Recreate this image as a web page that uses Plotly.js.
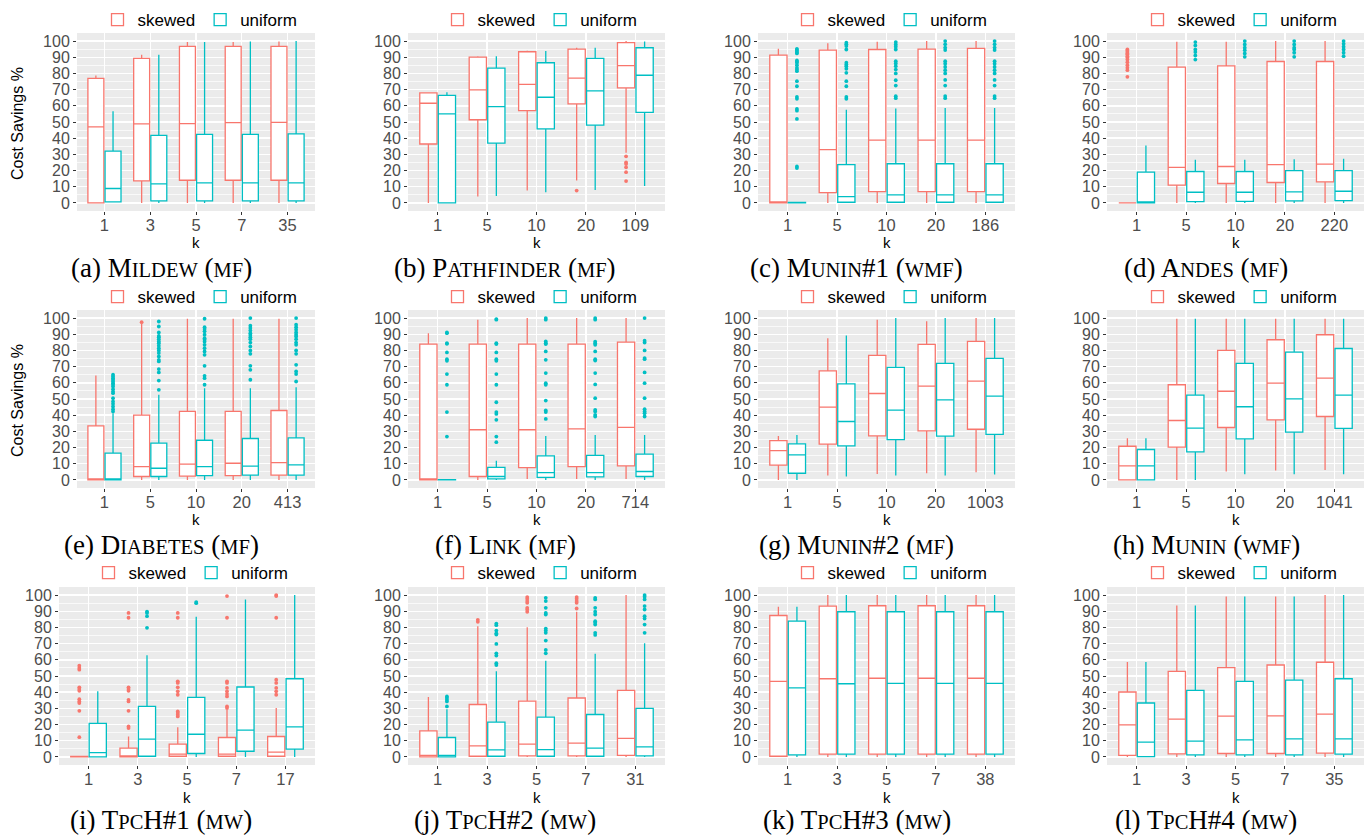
<!DOCTYPE html>
<html><head><meta charset="utf-8">
<script src="https://cdn.plot.ly/plotly-3.0.1.min.js"></script>
<style>html,body{margin:0;padding:0;background:#fff}</style>
</head><body><div id="chart" style="width:1367px;height:835px"></div>
<script>
// ---------------- DATA ----------------
// each box row: [lower whisker, q1, median, q3, upper whisker]
const seriesNames = ['skewed', 'uniform'];

const mildewK = ['1','3','5','7','35'];
const mildewSkewed = [[0,0,47,77,78.7],[0,13.6,48.8,89.3,91.5],[0,14,49,96.7,99.4],[0,14,49.6,96.7,99.4],[0,14,49.8,96.7,99.8]];
const mildewUniform = [[0.5,0.6,8.9,32,56.6],[0,1.2,11.8,41.7,91.5],[0,1.2,12.4,42.4,99.4],[0,1.2,12.4,42.4,99.8],[0,1.2,12.4,42.6,100]];
const mildewSkewedOut = [[],[],[],[],[]];
const mildewUniformOut = [[],[],[],[],[]];

const pathfinderK = ['1','5','10','20','109'];
const pathfinderSkewed = [[0,36.4,61.6,68,68.4],[3.9,51.4,69.8,90.1,90.7],[7.6,57,73.3,93.4,94],[13.8,61.2,77.1,95,95.9],[31,71.1,84.9,99,100]];
const pathfinderUniform = [[0,0,55,66.5,68.4],[4.3,37,59.5,83.3,90.7],[6.6,45.7,65.3,86.6,93.8],[8,48.1,69.2,89.3,95.9],[10.5,56,78.9,95.9,99.8]];
const pathfinderSkewedOut = [[],[],[],[7.6],[28.8,25,24,22,19,13.5]];
const pathfinderUniformOut = [[],[],[],[],[]];

const munin1K = ['1','5','10','20','186'];
const munin1Skewed = [[0,0,0,91.3,95.2],[0,6.4,32.9,94.4,98.6],[0,7,38.8,94.8,99.6],[0,7,38.8,95,100],[0,7,38.8,95.5,100]];
const munin1Uniform = [[0,0,0,0.3,0.3],[0,0.4,3.9,23.6,57.6],[0,0.4,5,24.2,58.3],[0,0.4,5,24.2,58.7],[0,0.4,5,24.2,58.7]];
const munin1SkewedOut = [[],[],[],[],[]];
const munin1UniformOut = [
  [95.2,94.5,93.8,93,92.4,88,87.3,86.6,85.1,83.5,82.5,81.4,75.2,72.1,65.5,64.3,58.1,57,51.9,22.5,21.5],
  [99,98,96.9,94.8,86.6,85.5,84.5,82.9,80.4,75.2,72.1,65.5,64.3],
  [99.4,97.9,96.5,94.8,87.6,86.2,84.5,82.4,80,75.8,72.5,65.9,64.7],
  [100,98,96,94.5,87.6,86,84,82,80,76,72.5,66,64.7],
  [100,98,96,94.5,87.6,86,84,82,80,76,72.5,66,64.7]];

const andesK = ['1','5','10','20','220'];
const andesSkewed = [[0,0,0,0,0],[0,11,21.9,83.9,99.6],[0,12,22.5,84.7,99.6],[0,12.6,23.6,87.4,100],[0,13,24,87.4,100]];
const andesUniform = [[0,0,0,19,35.5],[0,0.8,6.6,19.4,26.7],[0,1,6.6,19.4,26.7],[0,1.2,6.8,20,27],[0,1.4,7.2,20,27.3]];
const andesSkewedOut = [[94.8,94,93.2,92.4,91.7,90.7,89.8,88.6,87,85.1,83.5,82,77.9],[],[],[],[]];
const andesUniformOut = [[],[99.4,97.3,94.8,93.2,91.1,88.6],[100,97.9,95.9,94.4,92.4,90.3],[100,97.9,95.9,94.8,92.8,90.3],[100,98.3,96.5,94.8,92.8,90.7]];

const diabetesK = ['1','5','10','20','413'];
const diabetesSkewed = [[0,0,0,33.4,64.5],[0,2.1,8.2,40,96.5],[0,2.3,9.7,42.3,99.6],[0,2.7,10.3,42.3,99.6],[0,2.9,10.7,42.9,99.6]];
const diabetesUniform = [[0,0,0,16.5,41.2],[0,2.1,7.2,22.7,52.6],[0,2.7,8.2,24.5,56.7],[0,2.9,8.5,25.6,56.7],[0,2.9,9.3,26,57.3]];
const diabetesSkewedOut = [[],[97.5],[],[],[]];
const diabetesUniformOut = [
  [65,63.9,62.9,61.9,60.8,59.8,58.8,57.7,56.1,54.6,53.6,50.5,48.5,47,45.4,43.7,42.3],
  [97.9,94.8,91.1,89,88.2,87,85.6,84.5,82.9,81.4,80,78.4,76.3,74.2,73.2,68.5,66.4,61.4,55.7],
  [99.6,94.4,93.2,91.8,89.7,87.6,86.6,85.4,83.5,81.4,79.4,77.3,70.5,64.3,62.9,58.8],
  [100,95.3,93.8,92.4,90.7,89.5,88.2,87,84.9,82.5,80,77.9,70.5,68,61.9],
  [100,95.9,94.4,92.8,91.1,89.7,88.7,87,84.9,83.5,80,77.9,71.1,67,65.4,60.8]];

const linkK = ['1','5','10','20','714'];
const linkSkewed = [[0,0,0,83.9,90.7],[0,2.1,31,83.9,99],[0.6,7.6,31,83.9,100],[0.6,8.2,31.5,83.9,100],[0.6,8.7,32.5,85.2,100]];
const linkUniform = [[0,0,0,0.2,0.2],[0,0.6,2.1,7.8,11.8],[0,1.6,4.5,14.8,27.2],[0,1.9,4.5,15.1,27.8],[0,2.1,5.2,15.9,27.8]];
const linkSkewedOut = [[],[],[],[],[]];
const linkUniformOut = [
  [91.1,90.7,84.5,84.1,78.8,74.6,73.6,65.4,58.8,41.9,26.8],
  [99.4,99,84.5,84,78.8,74.6,73.6,65.4,58.8,48,41.9,40.8,37.1,26.8,23.3],
  [100,99,85.6,84.5,84,79.4,74.2,66,59.8,58.8,49,42.9,41.9,37.7],
  [100,99,85.4,84.5,83.5,79.4,74.6,73.8,66,59,50.5,43.3,42.3,40.2,39.2],
  [100,86,84.9,80,75.3,74.6,66.4,59.8,50.5,43.7,42.3,41.2,39.2]];

const munin2K = ['1','5','10','20','1003'];
const munin2Skewed = [[0,9.1,18.1,24.3,27.2],[2.7,22.1,45,67.4,87.6],[3.7,27.2,53.4,76.9,99],[4.1,30.3,57.9,83.7,98.1],[4.7,31.3,61,85.6,100]];
const munin2Uniform = [[0,4.1,15.5,22.3,27.8],[2.1,21,36.1,59.4,89.3],[2.7,24.9,43.1,69.5,100],[2.7,27,49.5,72,100],[3.3,28.2,51.8,75.1,100]];
const munin2SkewedOut = [[],[],[],[],[]];
const munin2UniformOut = [[],[],[],[],[]];

const muninK = ['1','5','10','20','1041'];
const muninSkewed = [[0,0,8.7,20.8,25.8],[0,20.2,36.7,58.8,99.6],[5.2,32.4,54.8,80,99.6],[5.8,37.1,59.8,86.6,99.6],[6.2,39.2,62.9,89.7,99.6]];
const muninUniform = [[0,0,8.7,18.8,25.8],[0,17.3,32,52.4,99.6],[3.5,25.4,45.2,72,99.6],[3.5,29.5,50.1,79,99.6],[3.5,31.8,52.4,81.2,99.6]];
const muninSkewedOut = [[],[],[],[],[]];
const muninUniformOut = [[],[],[],[],[]];

const tpch1K = ['1','3','5','7','17'];
const tpch1Skewed = [[0,0,0,0.3,0.3],[0,0,0.4,5.4,12.6],[0,0.4,1.7,7.9,18.4],[0,0.4,1.7,12,29.1],[0,0.4,2.9,12.6,30.2]];
const tpch1Uniform = [[0,0,2.7,20.7,40.5],[0,0.4,11,31.2,62.8],[0,2.1,14,36.8,86.6],[0,3.5,16.5,43.2,97.3],[0,4.8,18.6,48.3,100]];
const tpch1SkewedOut = [
  [56.4,55,53.9,43,41.9,40.9,35.7,34.3,33.3,28.5,12.2],
  [89,86,43,41.9,40.9,35.3,34.3,28.5,18.8,17.8],
  [89,86,46.7,45.7,43,40.5,38.4,28.1,27.1,26,25],
  [99.4,86,46.7,45.7,42.6,40.5,38.8,37.4,31.2,30.2],
  [100,99.4,86,47.7,45.7,42.6,40.5,38.4]];
const tpch1UniformOut = [[],[89.7,89,87,79.8],[95.7,95],[],[]];

const tpch2K = ['1','3','5','7','31'];
const tpch2Skewed = [[0,0,1,16.1,37],[0,0.4,6.8,32.4,80.8],[0,0.6,7.9,34.5,80.2],[0,0.6,8.5,36.4,89.7],[0,1,11.4,41.1,100]];
const tpch2Uniform = [[0,0,1,12,29.5],[0,0.4,4.3,21.5,52.9],[0,0.4,4.5,24.6,59.5],[0,0.4,5.4,26.2,63.8],[0,0.6,6.2,30,70.2]];
const tpch2SkewedOut = [[],[84.7,83.5],[98.8,97.7,96.3,95.2,92.1,91.1,89.7],[98.8,97.7,96.3,95.2,91.7],[]];
const tpch2UniformOut = [
  [37.4,36.4,35.3,34.3,31.2],
  [82.4,81.4,78.1,76.4,75.6,69.8,64,62.6,57.9,56.8],
  [98.3,96.3,92.1,89,88,79.3,78.1,76.7,71.9,66.1,64],
  [98.3,97.3,92.1,89.7,88,83.9,82.9,81.8,76.7,75.4],
  [100,99,97.3,93.2,91.1,87,85.5,81.8,76.7]];

const tpch3K = ['1','3','5','7','38'];
const tpch3Skewed = [[0,0.4,46.7,87.4,92.8],[0,1.7,48.3,93.2,100],[0,1.7,48.6,93.4,100],[0,1.7,48.6,93.4,100],[0,1.7,48.6,93.4,100]];
const tpch3Uniform = [[0,1.2,42.6,83.9,92.8],[0,1.7,45.2,89.7,100],[0,1.7,45.5,89.7,100],[0,1.7,45.5,89.7,100],[0,1.7,45.5,89.7,100]];
const tpch3SkewedOut = [[],[],[],[],[]];
const tpch3UniformOut = [[],[],[],[],[]];

const tpch4K = ['1','3','5','7','35'];
const tpch4Skewed = [[0,1,19.8,40.1,58.7],[0,1.9,23.3,52.9,93.6],[0,2.1,25.2,55.2,99.2],[0,2.1,25.4,56.8,99.2],[0,2.3,26.4,58.5,100]];
const tpch4Uniform = [[0,0.2,9.1,33.3,58.7],[0,1.2,9.7,41.1,93.6],[0,1.2,10.5,46.7,99.2],[0,1.2,11.2,47.5,99.2],[0,1.7,11.2,48.3,100]];
const tpch4SkewedOut = [[],[],[],[],[]];
const tpch4UniformOut = [[],[],[],[],[]];

const captionLabels = ['(a)','(b)','(c)','(d)','(e)','(f)','(g)','(h)','(i)','(j)','(k)','(l)'];
// lowercase letters are set in small capitals
const captionNames = ['Mildew (mf)','Pathfinder (mf)','Munin#1 (wmf)','Andes (mf)',
  'Diabetes (mf)','Link (mf)','Munin#2 (mf)','Munin (wmf)',
  'TpcH#1 (mw)','TpcH#2 (mw)','TpcH#3 (mw)','TpcH#4 (mw)'];
const yTitle = 'Cost Savings %';
const xTitle = 'k';

// ---------------- BUILD ----------------
const panels = [
  [mildewK, mildewSkewed, mildewUniform, mildewSkewedOut, mildewUniformOut],
  [pathfinderK, pathfinderSkewed, pathfinderUniform, pathfinderSkewedOut, pathfinderUniformOut],
  [munin1K, munin1Skewed, munin1Uniform, munin1SkewedOut, munin1UniformOut],
  [andesK, andesSkewed, andesUniform, andesSkewedOut, andesUniformOut],
  [diabetesK, diabetesSkewed, diabetesUniform, diabetesSkewedOut, diabetesUniformOut],
  [linkK, linkSkewed, linkUniform, linkSkewedOut, linkUniformOut],
  [munin2K, munin2Skewed, munin2Uniform, munin2SkewedOut, munin2UniformOut],
  [muninK, muninSkewed, muninUniform, muninSkewedOut, muninUniformOut],
  [tpch1K, tpch1Skewed, tpch1Uniform, tpch1SkewedOut, tpch1UniformOut],
  [tpch2K, tpch2Skewed, tpch2Uniform, tpch2SkewedOut, tpch2UniformOut],
  [tpch3K, tpch3Skewed, tpch3Uniform, tpch3SkewedOut, tpch3UniformOut],
  [tpch4K, tpch4Skewed, tpch4Uniform, tpch4SkewedOut, tpch4UniformOut]
];

const W = 1367, H = 835;
const COLORS = ['#F8766D', '#00BFC4'];
const SANS = 'Liberation Sans, Arial, Helvetica, sans-serif';
const SERIF = 'Liberation Serif, Times New Roman, serif';
const GROUP_WIDTH = 0.75;             // dodge width per k
const DODGE = GROUP_WIDTH / 4;        // centre offset of each box
const BOX_W = GROUP_WIDTH / 2 * 0.93; // each box's width

const colX = [[77,315],[408,665],[758,1015],[1107,1364]];
const rowY = [[33,211],[310,488],[587,765]];
const legendX = [200,540,890,1240];
const legendY = [20,297,573];
const captionX = [161,505,857,1206];
const captionY = [268,545,820];
const kTitleY = [242,519,797];

const px = v => v / W;
const py = v => 1 - v / H;

function smallCaps(s, small) {
  return s.replace(/[a-z]+/g, m => '<span style="font-size:' + small + 'px">' + m.toUpperCase() + '</span>');
}

const traces = [];
const layout = {
  width: W, height: H,
  margin: {l: 0, r: 0, t: 0, b: 0},
  paper_bgcolor: '#ffffff',
  plot_bgcolor: '#EBEBEB',
  boxmode: 'overlay',
  showlegend: true,
  font: {family: SANS},
  annotations: []
};

panels.forEach((p, i) => {
  const [kLabels, skewed, uniform, skOut, unOut] = p;
  const row = Math.floor(i / 4), col = i % 4;
  const sfx = i === 0 ? '' : String(i + 1);
  const xa = 'x' + sfx, ya = 'y' + sfx;
  const legendId = 'legend' + sfx;
  let xr = colX[col];
  if (row === 2 && col === 0) xr = [59, 315];
  const yr = rowY[row];
  const idx = kLabels.map((_, j) => j);

  [skewed, uniform].forEach((stats, s) => {
    const off = s === 0 ? -DODGE : DODGE;
    traces.push({
      type: 'box', xaxis: xa, yaxis: ya, legend: legendId,
      name: seriesNames[s], showlegend: true,
      x: idx.map(j => j + off),
      width: BOX_W,
      lowerfence: stats.map(r => r[0]),
      q1: stats.map(r => r[1]),
      median: stats.map(r => r[2]),
      q3: stats.map(r => r[3]),
      upperfence: stats.map(r => r[4]),
      boxpoints: false,
      whiskerwidth: 0,
      fillcolor: '#ffffff',
      line: {color: COLORS[s], width: 1.3},
      marker: {color: COLORS[s]},
      hoverinfo: 'skip'
    });
  });

  [skOut, unOut].forEach((outs, s) => {
    const xs = [], ys = [];
    outs.forEach((vals, j) => vals.forEach(v => { xs.push(j + (s === 0 ? -DODGE : DODGE)); ys.push(v); }));
    if (xs.length) traces.push({
      type: 'scatter', mode: 'markers', xaxis: xa, yaxis: ya,
      x: xs, y: ys, showlegend: false, hoverinfo: 'skip',
      marker: {color: COLORS[s], size: 3.8, line: {width: 0}}
    });
  });

  layout['xaxis' + sfx] = {
    domain: [px(xr[0]), px(xr[1])], anchor: ya,
    range: [-0.6, kLabels.length - 0.4],
    tickmode: 'array', tickvals: idx, ticktext: kLabels,
    showgrid: true, gridcolor: '#ffffff', gridwidth: 1.4,
    zeroline: false, showline: false,
    ticks: 'outside', ticklen: 3, tickwidth: 1, tickcolor: '#333333',
    tickfont: {size: 16.5, color: '#4D4D4D', family: SANS},
    ticklabelstandoff: -4,
    fixedrange: true
  };
  layout['yaxis' + sfx] = {
    domain: [py(yr[1]), py(yr[0])], anchor: xa,
    range: [-5, 105],
    tickmode: 'linear', tick0: 0, dtick: 10,
    showgrid: true, gridcolor: '#ffffff', gridwidth: 1.4,
    minor: {tickmode: 'linear', tick0: 5, dtick: 10, showgrid: true, gridcolor: '#ffffff', gridwidth: 0.7, ticks: ''},
    zeroline: false, showline: false,
    ticks: 'outside', ticklen: 3, tickwidth: 1, tickcolor: '#333333',
    tickfont: {size: 16, color: '#4D4D4D', family: SANS},
    ticklabelstandoff: 0,
    fixedrange: true
  };
  layout[legendId] = {
    x: px(row === 2 && col === 0 ? 191 : legendX[col]), y: py(legendY[row]),
    xanchor: 'center', yanchor: 'middle', orientation: 'h',
    font: {size: 17, color: '#000000', family: SANS},
    bgcolor: 'rgba(0,0,0,0)', borderwidth: 0,
    itemwidth: 30, tracegroupgap: 0, itemclick: false, itemdoubleclick: false
  };

  // x axis title
  layout.annotations.push({
    xref: 'paper', yref: 'paper', x: px((xr[0] + xr[1]) / 2), y: py(kTitleY[row]),
    xanchor: 'center', yanchor: 'middle', showarrow: false,
    text: xTitle, font: {size: 15, color: '#000000', family: SANS}
  });
  // y axis title on panels (a) and (e)
  if (col === 0 && row < 2) {
    layout.annotations.push({
      xref: 'paper', yref: 'paper', x: px(17), y: py((yr[0] + yr[1]) / 2 + 2),
      xanchor: 'center', yanchor: 'middle', showarrow: false, textangle: -90,
      text: yTitle, font: {size: 16, color: '#000000', family: SANS}
    });
  }
  // caption
  layout.annotations.push({
    xref: 'paper', yref: 'paper', x: px(captionX[col]), y: py(captionY[row]),
    xanchor: 'center', yanchor: 'middle', showarrow: false,
    text: captionLabels[i] + ' ' + smallCaps(captionNames[i], 20.5),
    font: {size: 27, color: '#000000', family: SERIF}
  });
});

Plotly.newPlot('chart', traces, layout, {staticPlot: true, displayModeBar: false});
</script>
</body></html>
